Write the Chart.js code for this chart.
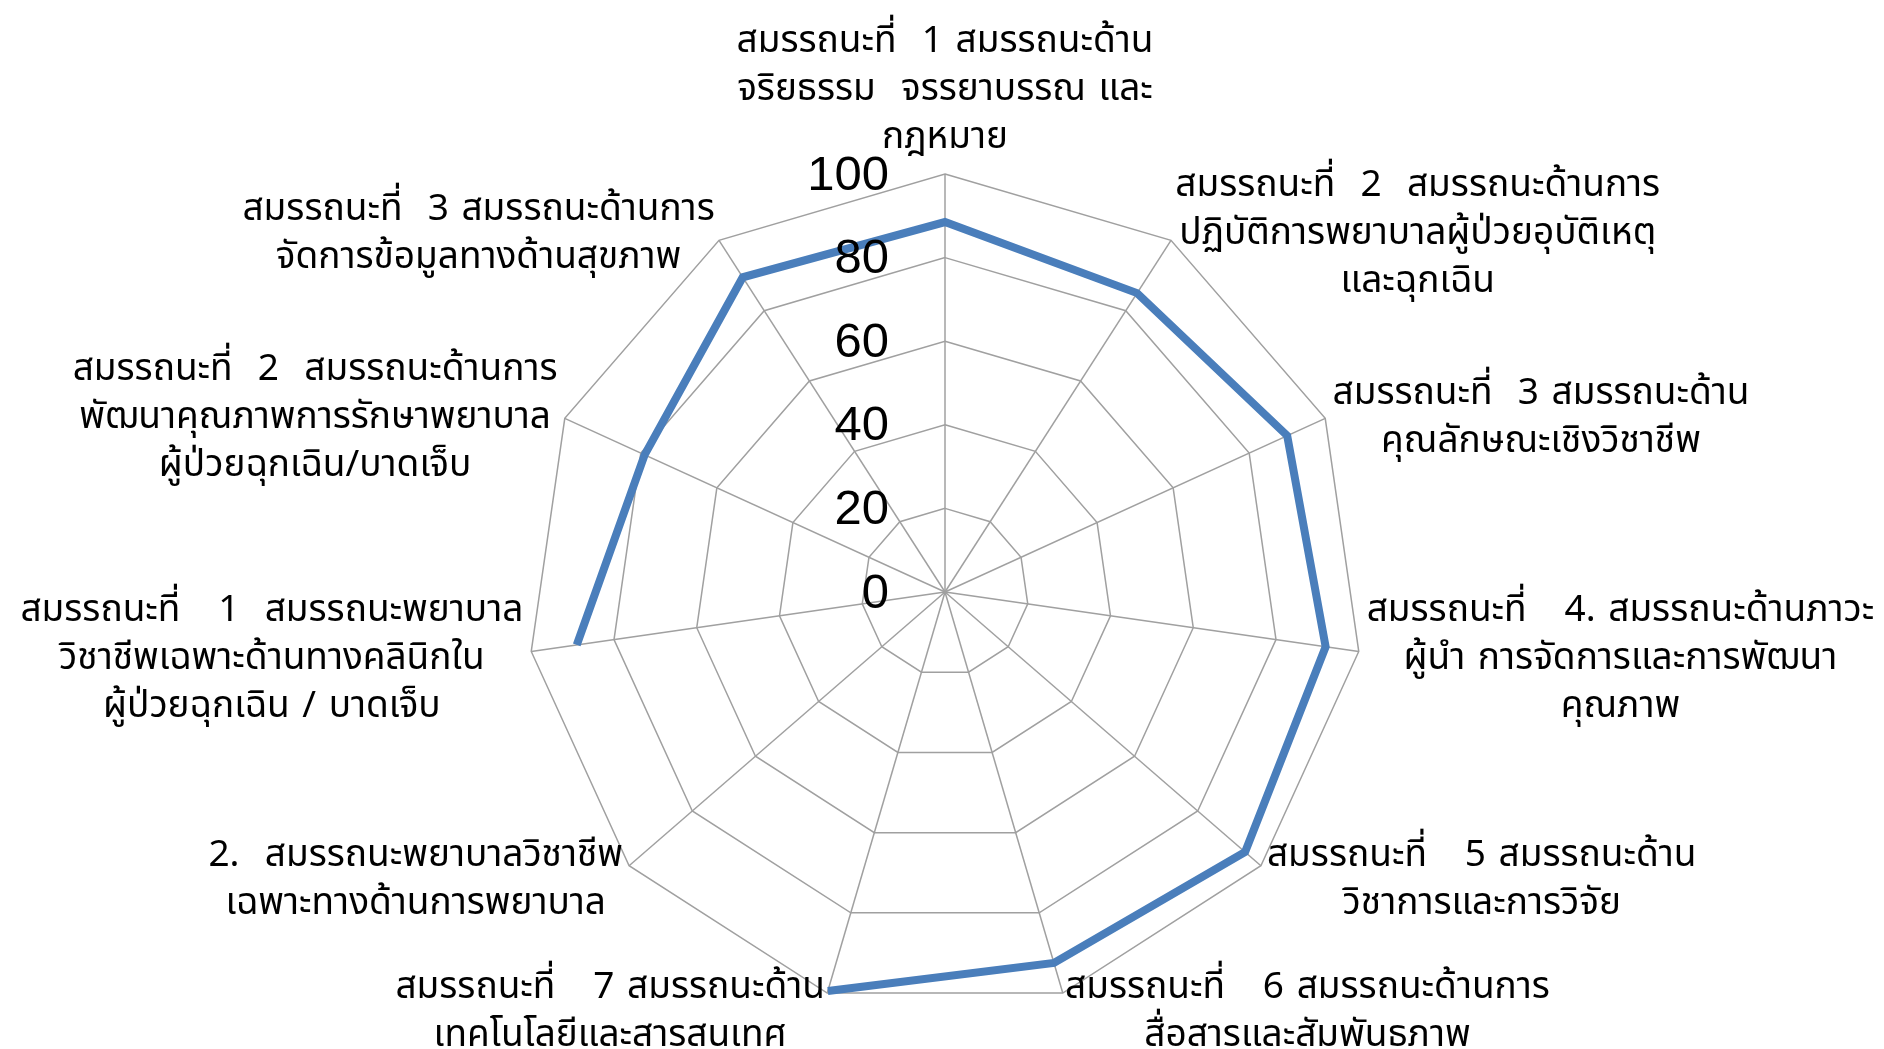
<!DOCTYPE html>
<html>
<head>
<meta charset="utf-8">
<script src="https://cdn.jsdelivr.net/npm/chart.js@4"></script>
<style>
  html, body { margin: 0; padding: 0; background: #fff; }
  #wrap { width: 1884px; height: 1049px; }
</style>
</head>
<body>
<div id="wrap"><canvas id="c" width="1884" height="1049"></canvas></div>
<script>
const categories = [
  ["สมรรถนะที่  1 สมรรถนะด้าน", "จริยธรรม  จรรยาบรรณ และ", "กฎหมาย"],
  ["สมรรถนะที่  2  สมรรถนะด้านการ", "ปฏิบัติการพยาบาลผู้ป่วยอุบัติเหตุ", "และฉุกเฉิน"],
  ["สมรรถนะที่  3 สมรรถนะด้าน", "คุณลักษณะเชิงวิชาชีพ"],
  ["สมรรถนะที่   4. สมรรถนะด้านภาวะ", "ผู้นำ การจัดการและการพัฒนา", "คุณภาพ"],
  ["สมรรถนะที่   5 สมรรถนะด้าน", "วิชาการและการวิจัย"],
  ["สมรรถนะที่   6 สมรรถนะด้านการ", "สื่อสารและสัมพันธภาพ"],
  ["สมรรถนะที่   7 สมรรถนะด้าน", "เทคโนโลยีและสารสนเทศ"],
  ["2.  สมรรถนะพยาบาลวิชาชีพ", "เฉพาะทางด้านการพยาบาล"],
  ["สมรรถนะที่   1  สมรรถนะพยาบาล", "วิชาชีพเฉพาะด้านทางคลินิกใน", "ผู้ป่วยฉุกเฉิน / บาดเจ็บ"],
  ["สมรรถนะที่  2  สมรรถนะด้านการ", "พัฒนาคุณภาพการรักษาพยาบาล", "ผู้ป่วยฉุกเฉิน/บาดเจ็บ"],
  ["สมรรถนะที่  3 สมรรถนะด้านการ", "จัดการข้อมูลทางด้านสุขภาพ"]
];
const scores = [88.5, 85, 90, 92, 95, 92.5, 99.5, null, 89, 79, 89.5];
const tickValues = [0, 20, 40, 60, 80, 100];

const thaiFont = "Tahoma, 'Noto Sans Thai', 'Noto Sans', 'DejaVu Sans', sans-serif";

const labelPlugin = {
  id: 'customLabels',
  afterDraw(chart) {
    const s = chart.scales.r;
    const ctx = chart.ctx;
    const r = s.drawingArea;
    ctx.save();
    // tick labels
    ctx.font = "49px 'Liberation Sans', Arial, sans-serif";
    ctx.fillStyle = '#000';
    ctx.textAlign = 'right';
    ctx.textBaseline = 'middle';
    tickValues.forEach(v => {
      const d = s.getDistanceFromCenterForValue(v);
      ctx.fillText(String(v), s.xCenter - 56, s.yCenter - d + 2);
    });
    // point labels
    ctx.font = "37px " + thaiFont;
    try { ctx.wordSpacing = '3px'; } catch (e) {}
    ctx.fillStyle = '#000';
    ctx.textAlign = 'center';
    ctx.textBaseline = 'middle';
    const lh = 48;
    categories.forEach((lines, i) => {
      const n = lines.length;
      let cx, cy;
      if (i === 0) {
        const p = s.getPointPosition(i, r + 13);
        cx = p.x; cy = p.y - (n * lh) / 2 + 4;
      } else {
        const pA = s.getPointPosition(i, r + 8);
        const pB = s.getPointPosition(i, r + 14);
        cy = pB.y + 8;
        let w = 0;
        lines.forEach(t => { w = Math.max(w, ctx.measureText(t).width); });
        cx = pA.x > s.xCenter ? pA.x + w / 2 : pA.x - w / 2;
      }
      lines.forEach((t, k) => {
        ctx.fillText(t, cx, cy + (k - (n - 1) / 2) * lh);
      });
    });
    ctx.restore();
  }
};

new Chart(document.getElementById('c'), {
  type: 'radar',
  data: {
    labels: categories,
    datasets: [{
      data: scores,
      borderColor: '#4A7EBB',
      borderWidth: 8,
      fill: false,
      pointRadius: 0,
      pointHoverRadius: 0,
      spanGaps: false,
      tension: 0,
      borderJoinStyle: 'miter'
    }]
  },
  options: {
    responsive: false,
    animation: false,
    layout: { padding: { top: 174, bottom: 39, left: 6, right: 0 } },
    plugins: { legend: { display: false }, tooltip: { enabled: false } },
    scales: {
      r: {
        min: 0, max: 100,
        ticks: { stepSize: 20, display: false },
        grid: { color: '#A0A0A0', lineWidth: 1.5 },
        angleLines: { color: '#A0A0A0', lineWidth: 1.5 },
        pointLabels: { display: false }
      }
    }
  },
  plugins: [labelPlugin]
});
</script>
</body>
</html>
